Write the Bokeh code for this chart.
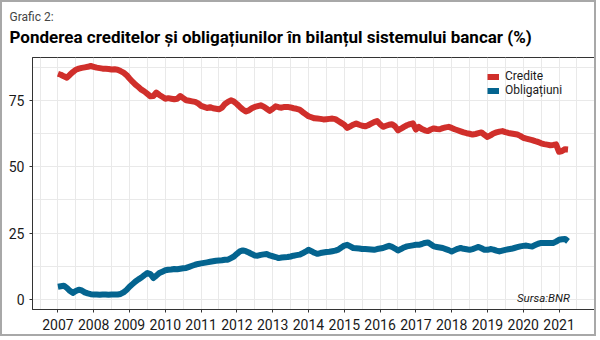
import numpy as np
from bokeh.plotting import figure
from bokeh.models import Range1d, Legend, LegendItem, Title, Label, FixedTicker
from bokeh.embed import file_html
from bokeh.resources import INLINE

# ---------------- data (monthly, Jan 2007 - Apr 2021) ----------------
start_year = 2007
credite = [
    85.0, 84.6, 84.0, 83.5, 84.6, 85.6, 86.5, 86.9, 87.2, 87.4, 87.6, 87.9,  # 2007
    87.6, 87.3, 87.1, 86.9, 86.9, 86.8, 86.6, 86.7, 86.5, 86.0, 85.4, 84.5,  # 2008
    83.2, 82.0, 80.9, 80.0, 79.0, 78.3, 77.4, 76.5, 76.6, 77.9, 77.0, 76.3,  # 2009
    75.6, 75.8, 75.6, 75.4, 75.6, 76.6, 75.8, 75.0, 74.8, 74.6, 74.4, 73.8,  # 2010
    72.9, 72.5, 72.1, 72.4, 72.0, 71.8, 71.6, 72.2, 73.6, 74.4, 75.0, 74.5,  # 2011
    73.6, 72.5, 71.5, 70.8, 71.2, 72.0, 72.5, 72.8, 73.1, 72.6, 71.8, 71.0,  # 2012
    71.8, 72.7, 72.4, 72.2, 72.5, 72.5, 72.3, 72.0, 71.8, 71.5, 70.6, 69.8,  # 2013
    69.0, 68.6, 68.2, 68.1, 68.0, 67.8, 67.9, 68.0, 68.1, 67.9, 67.2, 66.5,  # 2014
    65.8, 64.6, 65.2, 65.8, 66.3, 65.8, 65.4, 65.2, 65.6, 66.2, 66.8, 67.2,  # 2015
    66.0, 65.0, 65.4, 65.8, 66.0, 65.2, 63.7, 64.3, 65.0, 65.6, 66.0, 66.3,  # 2016
    64.0, 65.0, 64.2, 63.7, 63.4, 64.0, 64.4, 64.2, 64.1, 64.5, 64.8, 65.0,  # 2017
    64.6, 64.1, 63.7, 63.3, 62.9, 62.6, 62.4, 62.1, 62.3, 62.6, 62.9, 62.0,  # 2018
    61.2, 61.8, 62.5, 62.9, 63.2, 63.4, 63.0, 62.7, 62.5, 62.3, 62.1, 61.6,  # 2019
    60.9, 60.6, 60.3, 60.0, 59.6, 59.3, 58.8, 58.5, 58.3, 58.1, 58.2, 58.4,  # 2020
    55.6, 55.9, 56.6, 56.5,                                                  # 2021
]
obligatiuni = [
    4.8, 5.0, 5.2, 4.4, 3.3, 2.5, 3.2, 3.7, 3.4, 2.7, 2.3, 2.0,             # 2007
    1.9, 1.9, 1.8, 1.9, 1.9, 1.8, 1.9, 1.9, 1.9, 2.1, 2.7, 3.6,             # 2008
    4.8, 5.8, 6.8, 7.6, 8.3, 9.2, 10.0, 9.6, 8.1, 9.0, 10.0, 10.5,          # 2009
    11.0, 11.2, 11.3, 11.5, 11.4, 11.6, 11.8, 11.9, 12.3, 12.7, 13.1, 13.4, # 2010
    13.6, 13.8, 14.0, 14.2, 14.4, 14.6, 14.7, 14.8, 15.0, 15.0, 15.6, 16.2, # 2011
    17.2, 18.1, 18.5, 18.2, 17.7, 17.1, 16.6, 16.5, 16.8, 17.0, 17.1, 16.6, # 2012
    16.3, 16.0, 15.6, 15.8, 15.9, 16.0, 16.2, 16.5, 16.7, 16.9, 17.4, 18.0, # 2013
    18.7, 18.2, 17.6, 17.2, 17.5, 17.7, 17.9, 18.0, 18.2, 18.4, 18.8, 19.6, # 2014
    20.3, 20.6, 20.0, 19.4, 19.3, 19.2, 19.0, 19.0, 18.9, 18.8, 18.7, 19.0, # 2015
    19.2, 19.4, 19.8, 20.2, 19.8, 19.2, 18.5, 19.0, 19.6, 20.0, 20.2, 20.4, # 2016
    20.6, 20.6, 20.9, 21.3, 21.5, 20.8, 20.0, 19.8, 19.6, 19.4, 19.0, 18.6, # 2017
    18.1, 18.6, 19.1, 19.4, 19.1, 18.9, 18.7, 19.0, 19.4, 19.8, 19.3, 18.7, # 2018
    18.7, 19.0, 18.8, 18.4, 18.1, 18.4, 18.7, 18.9, 19.1, 19.4, 19.7, 20.0, # 2019
    20.2, 20.3, 20.1, 20.0, 20.5, 21.0, 21.3, 21.3, 21.3, 21.3, 21.3, 21.8, # 2020
    22.5, 22.7, 22.8, 21.9,                                                 # 2021
]
year_ticks = list(range(2007, 2022))
y_ticks = [0, 25, 50, 75]
series_names = ["Credite", "Obligațiuni"]
title_text = "Ponderea creditelor și obligațiunilor în bilanțul sistemului bancar (%)"
subtitle_text = "Grafic 2:"
source_text = "Sursa:BNR"

# time axis: month index -> decimal year
months = [start_year + i / 12 for i in range(len(credite))]

FONT = "Roboto"
RED = "#d02f2b"
BLUE = "#04648f"
GRID = "#e9e9e9"

p = figure(width=596, height=336, output_backend="svg", toolbar_location=None,
           x_range=Range1d(2006.29, 2021.99), y_range=Range1d(-3.75, 91.1),
           min_border_left=30, min_border_right=4, min_border_top=55, min_border_bottom=29)
p.styles = {"border": "2px solid #a8a8a8"}
p.background_fill_color = "white"
p.border_fill_color = "white"
p.outline_line_color = "#333333"
p.outline_line_width = 1

# ticks & grids
p.xaxis.ticker = FixedTicker(ticks=year_ticks,
                             minor_ticks=[t + 0.5 for t in range(2006, 2022)])
p.yaxis.ticker = FixedTicker(ticks=y_ticks, minor_ticks=[12.5, 37.5, 62.5, 87.5])
for g in (p.xgrid, p.ygrid):
    g.grid_line_color = GRID
    g.grid_line_width = 1
    g.minor_grid_line_color = GRID
    g.minor_grid_line_width = 1
for ax in (p.xaxis, p.yaxis):
    ax.axis_line_color = "#333333"
    ax.major_tick_line_color = "#333333"
    ax.major_tick_in = 0
    ax.major_tick_out = 3
    ax.minor_tick_line_color = None
    ax.major_label_text_font = FONT
    ax.major_label_text_font_size = "14px"
    ax.major_label_text_color = "#1a1a1a"
p.xaxis.major_label_standoff = 5
p.yaxis.major_label_standoff = 4

# lines
r1 = p.line(months, credite, line_color=RED, line_width=6, line_join="round")
r2 = p.line(months, obligatiuni, line_color=BLUE, line_width=6, line_join="round")

legend = Legend(items=[LegendItem(label=series_names[0], renderers=[r1]),
                       LegendItem(label=series_names[1], renderers=[r2])],
                location="top_right", margin=12, padding=4, spacing=0,
                glyph_width=12, glyph_height=7, label_standoff=6, label_width=77,
                label_text_font=FONT, label_text_font_size="12px",
                label_text_color="#1a1a1a",
                border_line_color=None, background_fill_alpha=0)
p.add_layout(legend)

src = Label(x=2021.3, y=0.7, text=source_text, text_font=FONT, text_font_size="11.5px",
            text_font_style="italic", text_align="right", text_baseline="middle",
            text_color="#1a1a1a")
p.add_layout(src)

# titles: subtitle outermost, main title next to the frame
p.title.text = subtitle_text
p.title.text_font = FONT
p.title.text_font_size = "12px"
p.title.text_font_style = "normal"
p.title.text_color = "#444444"
p.title.align = "left"
p.title.vertical_align = "bottom"
p.title.offset = -23
p.title.standoff = -12
p.add_layout(Title(text=title_text, text_font=FONT, text_font_size="17px",
                   text_font_style="bold", text_color="#000000",
                   align="left", vertical_align="top", offset=-23, standoff=18), "above")

open("out.html", "w").write(file_html(p, INLINE))
